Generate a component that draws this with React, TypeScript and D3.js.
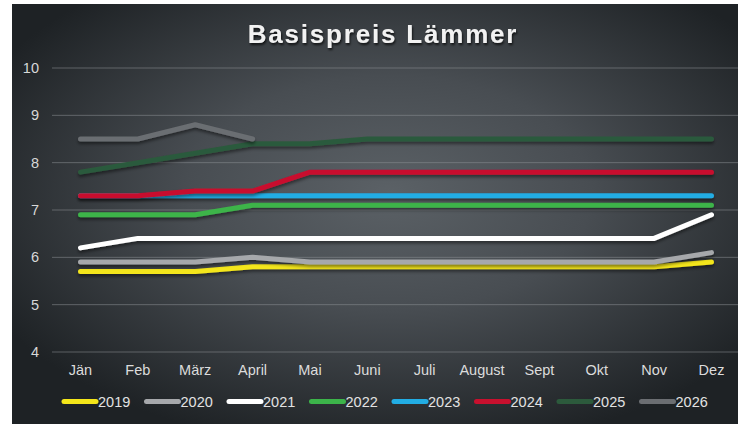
import React from "react";
import * as d3 from "d3";

const months = ["Jän", "Feb", "März", "April", "Mai", "Juni", "Juli", "August", "Sept", "Okt", "Nov", "Dez"];
const yTicks = [4, 5, 6, 7, 8, 9, 10];

const s2019 = [5.7, 5.7, 5.7, 5.8, 5.8, 5.8, 5.8, 5.8, 5.8, 5.8, 5.8, 5.9];
const s2020 = [5.9, 5.9, 5.9, 6.0, 5.9, 5.9, 5.9, 5.9, 5.9, 5.9, 5.9, 6.1];
const s2021 = [6.2, 6.4, 6.4, 6.4, 6.4, 6.4, 6.4, 6.4, 6.4, 6.4, 6.4, 6.9];
const s2022 = [6.9, 6.9, 6.9, 7.1, 7.1, 7.1, 7.1, 7.1, 7.1, 7.1, 7.1, 7.1];
const s2023 = [7.3, 7.3, 7.3, 7.3, 7.3, 7.3, 7.3, 7.3, 7.3, 7.3, 7.3, 7.3];
const s2024 = [7.3, 7.3, 7.4, 7.4, 7.8, 7.8, 7.8, 7.8, 7.8, 7.8, 7.8, 7.8];
const s2025 = [7.8, 8.0, 8.2, 8.4, 8.4, 8.5, 8.5, 8.5, 8.5, 8.5, 8.5, 8.5];
const s2026 = [8.5, 8.5, 8.8, 8.5];

const seriesNames = ["2019", "2020", "2021", "2022", "2023", "2024", "2025", "2026"];
const seriesValues = [s2019, s2020, s2021, s2022, s2023, s2024, s2025, s2026];
const seriesColors = ["#f4e61a", "#a6a8ab", "#ffffff", "#3cb44a", "#22ade4", "#c8102e", "#2c5a3c", "#6b6e72"];

const W = 738;
const H = 424;

export default function App() {
  const x = d3.scalePoint<string>().domain(months).range([80.5, 711.5]);
  const y = d3.scaleLinear().domain([4, 10]).range([352, 68]);
  const line = d3
    .line<number>()
    .x((_, i) => x(months[i]) as number)
    .y((d) => y(d));

  const legendX = d3.scaleBand<string>().domain(seriesNames).range([62, 722]);

  const font = "'Liberation Sans', Arial, Helvetica, sans-serif";

  return (
    <svg
      width={W}
      height={H}
      style={{ position: "absolute", left: 0, top: 0, background: "#ffffff" }}
    >
      <defs>
        <radialGradient id="bg" cx="0.52" cy="0.45" r="0.62">
          <stop offset="0" stopColor="#5b6166" />
          <stop offset="0.45" stopColor="#484d52" />
          <stop offset="1" stopColor="#1e2225" />
        </radialGradient>
        <filter id="shadow" filterUnits="userSpaceOnUse" x={0} y={0} width={W} height={H}>
          <feDropShadow dx="0" dy="2.5" stdDeviation="1.5" floodColor="#000" floodOpacity="0.45" />
        </filter>
        <filter id="tshadow" filterUnits="userSpaceOnUse" x={0} y={0} width={W} height={H}>
          <feDropShadow dx="1" dy="2" stdDeviation="1.2" floodColor="#000" floodOpacity="0.7" />
        </filter>
      </defs>
      <rect x={12} y={4} width={W - 12} height={H - 4} fill="url(#bg)" />

      <text
        x={383}
        y={43}
        textAnchor="middle"
        fill="#f2f2f2"
        fontFamily={font}
        fontWeight="bold"
        fontSize={26}
        letterSpacing={1.8}
        filter="url(#tshadow)"
      >
        Basispreis Lämmer
      </text>

      {yTicks.map((t) => (
        <g key={t}>
          <line x1={52} x2={W} y1={y(t)} y2={y(t)} stroke="#8a8f94" strokeOpacity={0.55} strokeWidth={1} />
          <text
            x={39}
            y={y(t)}
            dy="0.35em"
            textAnchor="end"
            fill="#d8d8d8"
            fontFamily={font}
            fontSize={14.5}
          >
            {t}
          </text>
        </g>
      ))}

      {months.map((m) => (
        <text
          key={m}
          x={x(m) as number}
          y={375}
          textAnchor="middle"
          fill="#dcdcdc"
          fontFamily={font}
          fontSize={14.5}
        >
          {m}
        </text>
      ))}

      {seriesValues.map((vals, i) => (
        <path
          key={seriesNames[i]}
          d={line(vals) || ""}
          fill="none"
          stroke={seriesColors[i]}
          strokeWidth={5}
          strokeLinecap="round"
          strokeLinejoin="round"
          filter="url(#shadow)"
        />
      ))}

      {seriesNames.map((n, i) => {
        const lx = legendX(n) as number;
        return (
          <g key={n}>
            <line
              x1={lx + 2}
              x2={lx + 34}
              y1={401.5}
              y2={401.5}
              stroke={seriesColors[i]}
              strokeWidth={5}
              strokeLinecap="round"
            />
            <text x={lx + 36} y={406.5} fill="#e2e2e2" fontFamily={font} fontSize={14.5}>
              {n}
            </text>
          </g>
        );
      })}
    </svg>
  );
}
